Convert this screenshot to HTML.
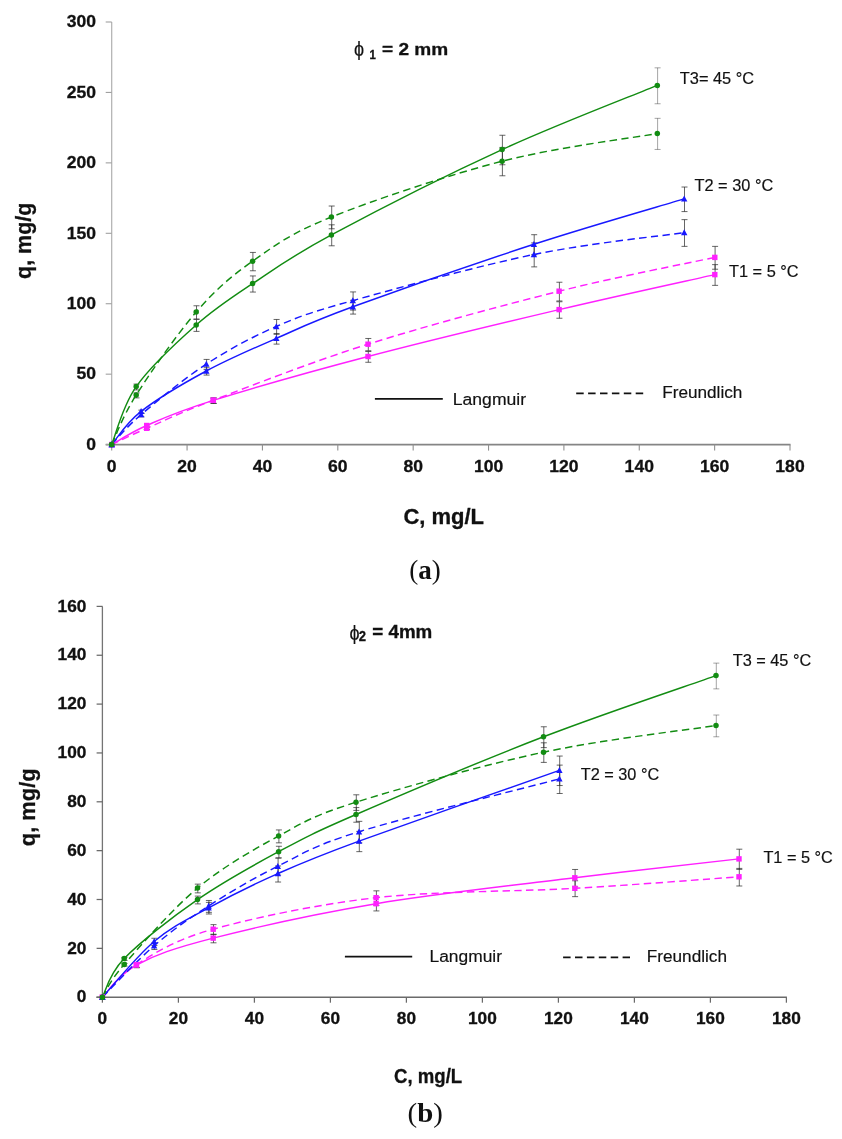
<!DOCTYPE html>
<html><head><meta charset="utf-8"><title>Adsorption isotherms</title>
<style>html,body{margin:0;padding:0;background:#fff}svg{display:block}</style></head>
<body>
<svg width="842" height="1139" viewBox="0 0 842 1139">
<rect width="842" height="1139" fill="#fff"/>
<path d="M111.70,22 V444.60" stroke="#b0b0b0" stroke-width="1.2" fill="none"/>
<path d="M105.70,444.60 H790.5" stroke="#858585" stroke-width="1.6" fill="none"/>
<path d="M105.70,444.60 h6" stroke="#a0a0a0" stroke-width="1.1"/>
<text transform="translate(96.00,449.80) scale(1.0100,1)" font-family='"Liberation Sans", sans-serif' font-size="17.40" font-weight="bold" text-anchor="end" fill="#111" stroke="#111" stroke-width="0.3">0</text>
<path d="M105.70,374.17 h6" stroke="#a0a0a0" stroke-width="1.1"/>
<text transform="translate(96.00,379.37) scale(1.0100,1)" font-family='"Liberation Sans", sans-serif' font-size="17.40" font-weight="bold" text-anchor="end" fill="#111" stroke="#111" stroke-width="0.3">50</text>
<path d="M105.70,303.73 h6" stroke="#a0a0a0" stroke-width="1.1"/>
<text transform="translate(96.00,308.93) scale(1.0100,1)" font-family='"Liberation Sans", sans-serif' font-size="17.40" font-weight="bold" text-anchor="end" fill="#111" stroke="#111" stroke-width="0.3">100</text>
<path d="M105.70,233.30 h6" stroke="#a0a0a0" stroke-width="1.1"/>
<text transform="translate(96.00,238.50) scale(1.0100,1)" font-family='"Liberation Sans", sans-serif' font-size="17.40" font-weight="bold" text-anchor="end" fill="#111" stroke="#111" stroke-width="0.3">150</text>
<path d="M105.70,162.87 h6" stroke="#a0a0a0" stroke-width="1.1"/>
<text transform="translate(96.00,168.07) scale(1.0100,1)" font-family='"Liberation Sans", sans-serif' font-size="17.40" font-weight="bold" text-anchor="end" fill="#111" stroke="#111" stroke-width="0.3">200</text>
<path d="M105.70,92.43 h6" stroke="#a0a0a0" stroke-width="1.1"/>
<text transform="translate(96.00,97.63) scale(1.0100,1)" font-family='"Liberation Sans", sans-serif' font-size="17.40" font-weight="bold" text-anchor="end" fill="#111" stroke="#111" stroke-width="0.3">250</text>
<path d="M105.70,22.00 h6" stroke="#a0a0a0" stroke-width="1.1"/>
<text transform="translate(96.00,27.20) scale(1.0100,1)" font-family='"Liberation Sans", sans-serif' font-size="17.40" font-weight="bold" text-anchor="end" fill="#111" stroke="#111" stroke-width="0.3">300</text>
<path d="M111.70,444.60 v6" stroke="#909090" stroke-width="1.1"/>
<text transform="translate(111.70,471.70) scale(1.0100,1)" font-family='"Liberation Sans", sans-serif' font-size="17.40" font-weight="bold" text-anchor="middle" fill="#111" stroke="#111" stroke-width="0.3">0</text>
<path d="M187.07,444.60 v6" stroke="#909090" stroke-width="1.1"/>
<text transform="translate(187.07,471.70) scale(1.0100,1)" font-family='"Liberation Sans", sans-serif' font-size="17.40" font-weight="bold" text-anchor="middle" fill="#111" stroke="#111" stroke-width="0.3">20</text>
<path d="M262.43,444.60 v6" stroke="#909090" stroke-width="1.1"/>
<text transform="translate(262.43,471.70) scale(1.0100,1)" font-family='"Liberation Sans", sans-serif' font-size="17.40" font-weight="bold" text-anchor="middle" fill="#111" stroke="#111" stroke-width="0.3">40</text>
<path d="M337.80,444.60 v6" stroke="#909090" stroke-width="1.1"/>
<text transform="translate(337.80,471.70) scale(1.0100,1)" font-family='"Liberation Sans", sans-serif' font-size="17.40" font-weight="bold" text-anchor="middle" fill="#111" stroke="#111" stroke-width="0.3">60</text>
<path d="M413.17,444.60 v6" stroke="#909090" stroke-width="1.1"/>
<text transform="translate(413.17,471.70) scale(1.0100,1)" font-family='"Liberation Sans", sans-serif' font-size="17.40" font-weight="bold" text-anchor="middle" fill="#111" stroke="#111" stroke-width="0.3">80</text>
<path d="M488.53,444.60 v6" stroke="#909090" stroke-width="1.1"/>
<text transform="translate(488.53,471.70) scale(1.0100,1)" font-family='"Liberation Sans", sans-serif' font-size="17.40" font-weight="bold" text-anchor="middle" fill="#111" stroke="#111" stroke-width="0.3">100</text>
<path d="M563.90,444.60 v6" stroke="#909090" stroke-width="1.1"/>
<text transform="translate(563.90,471.70) scale(1.0100,1)" font-family='"Liberation Sans", sans-serif' font-size="17.40" font-weight="bold" text-anchor="middle" fill="#111" stroke="#111" stroke-width="0.3">120</text>
<path d="M639.27,444.60 v6" stroke="#909090" stroke-width="1.1"/>
<text transform="translate(639.27,471.70) scale(1.0100,1)" font-family='"Liberation Sans", sans-serif' font-size="17.40" font-weight="bold" text-anchor="middle" fill="#111" stroke="#111" stroke-width="0.3">140</text>
<path d="M714.63,444.60 v6" stroke="#909090" stroke-width="1.1"/>
<text transform="translate(714.63,471.70) scale(1.0100,1)" font-family='"Liberation Sans", sans-serif' font-size="17.40" font-weight="bold" text-anchor="middle" fill="#111" stroke="#111" stroke-width="0.3">160</text>
<path d="M790.00,444.60 v6" stroke="#909090" stroke-width="1.1"/>
<text transform="translate(790.00,471.70) scale(1.0100,1)" font-family='"Liberation Sans", sans-serif' font-size="17.40" font-weight="bold" text-anchor="middle" fill="#111" stroke="#111" stroke-width="0.3">180</text>






<path d="M147.00,424.73 V427.07 M144.00,424.73 h6 M144.00,427.07 h6" stroke="#2a2a2a" stroke-opacity="0.85" stroke-width="0.85" fill="none"/>
<path d="M213.60,398.10 V403.50 M210.60,398.10 h6 M210.60,403.50 h6" stroke="#2a2a2a" stroke-opacity="0.85" stroke-width="0.85" fill="none"/>
<path d="M368.30,351.53 V362.27 M365.30,351.53 h6 M365.30,362.27 h6" stroke="#2a2a2a" stroke-opacity="0.85" stroke-width="0.85" fill="none"/>
<path d="M559.40,301.76 V318.24 M556.40,301.76 h6 M556.40,318.24 h6" stroke="#2a2a2a" stroke-opacity="0.85" stroke-width="0.85" fill="none"/>
<path d="M715.10,264.63 V285.37 M712.10,264.63 h6 M712.10,285.37 h6" stroke="#2a2a2a" stroke-opacity="0.85" stroke-width="0.85" fill="none"/>
<path d="M147.00,427.71 V429.69 M144.00,427.71 h6 M144.00,429.69 h6" stroke="#2a2a2a" stroke-opacity="0.85" stroke-width="0.85" fill="none"/>
<path d="M213.60,397.89 V403.31 M210.60,397.89 h6 M210.60,403.31 h6" stroke="#2a2a2a" stroke-opacity="0.85" stroke-width="0.85" fill="none"/>
<path d="M368.30,338.48 V350.72 M365.30,338.48 h6 M365.30,350.72 h6" stroke="#2a2a2a" stroke-opacity="0.85" stroke-width="0.85" fill="none"/>
<path d="M559.40,282.24 V300.96 M556.40,282.24 h6 M556.40,300.96 h6" stroke="#2a2a2a" stroke-opacity="0.85" stroke-width="0.85" fill="none"/>
<path d="M715.10,246.38 V269.22 M712.10,246.38 h6 M712.10,269.22 h6" stroke="#2a2a2a" stroke-opacity="0.85" stroke-width="0.85" fill="none"/>
<path d="M141.40,410.14 V413.46 M138.40,410.14 h6 M138.40,413.46 h6" stroke="#2a2a2a" stroke-opacity="0.85" stroke-width="0.85" fill="none"/>
<path d="M206.60,367.72 V375.08 M203.60,367.72 h6 M203.60,375.08 h6" stroke="#2a2a2a" stroke-opacity="0.85" stroke-width="0.85" fill="none"/>
<path d="M276.60,333.49 V344.11 M273.60,333.49 h6 M273.60,344.11 h6" stroke="#2a2a2a" stroke-opacity="0.85" stroke-width="0.85" fill="none"/>
<path d="M353.10,300.31 V314.09 M350.10,300.31 h6 M350.10,314.09 h6" stroke="#2a2a2a" stroke-opacity="0.85" stroke-width="0.85" fill="none"/>
<path d="M534.20,234.69 V254.72 M531.20,234.69 h6 M531.20,254.72 h6" stroke="#2a2a2a" stroke-opacity="0.85" stroke-width="0.85" fill="none"/>
<path d="M684.50,187.02 V211.59 M681.50,187.02 h6 M681.50,211.59 h6" stroke="#2a2a2a" stroke-opacity="0.85" stroke-width="0.85" fill="none"/>
<path d="M141.40,413.11 V416.89 M138.40,413.11 h6 M138.40,416.89 h6" stroke="#2a2a2a" stroke-opacity="0.85" stroke-width="0.85" fill="none"/>
<path d="M206.60,359.43 V369.57 M203.60,359.43 h6 M203.60,369.57 h6" stroke="#2a2a2a" stroke-opacity="0.85" stroke-width="0.85" fill="none"/>
<path d="M276.60,319.46 V334.34 M273.60,319.46 h6 M273.60,334.34 h6" stroke="#2a2a2a" stroke-opacity="0.85" stroke-width="0.85" fill="none"/>
<path d="M353.10,291.93 V310.07 M350.10,291.93 h6 M350.10,310.07 h6" stroke="#2a2a2a" stroke-opacity="0.85" stroke-width="0.85" fill="none"/>
<path d="M534.20,242.92 V266.88 M531.20,242.92 h6 M531.20,266.88 h6" stroke="#2a2a2a" stroke-opacity="0.85" stroke-width="0.85" fill="none"/>
<path d="M684.50,219.64 V246.36 M681.50,219.64 h6 M681.50,246.36 h6" stroke="#2a2a2a" stroke-opacity="0.85" stroke-width="0.85" fill="none"/>
<path d="M136.50,384.10 V389.90 M133.50,384.10 h6 M133.50,389.90 h6" stroke="#2a2a2a" stroke-opacity="0.85" stroke-width="0.85" fill="none"/>
<path d="M196.50,319.42 V331.38 M193.50,319.42 h6 M193.50,331.38 h6" stroke="#2a2a2a" stroke-opacity="0.85" stroke-width="0.85" fill="none"/>
<path d="M252.90,275.95 V292.05 M249.90,275.95 h6 M249.90,292.05 h6" stroke="#2a2a2a" stroke-opacity="0.85" stroke-width="0.85" fill="none"/>
<path d="M331.70,224.81 V245.79 M328.70,224.81 h6 M328.70,245.79 h6" stroke="#2a2a2a" stroke-opacity="0.85" stroke-width="0.85" fill="none"/>
<path d="M502.40,135.25 V164.75 M499.40,135.25 h6 M499.40,164.75 h6" stroke="#2a2a2a" stroke-opacity="0.85" stroke-width="0.85" fill="none"/>
<path d="M657.60,67.84 V103.76 M654.60,67.84 h6 M654.60,103.76 h6" stroke="#2a2a2a" stroke-opacity="0.50" stroke-width="0.85" fill="none"/>
<path d="M136.50,392.92 V397.88 M133.50,392.92 h6 M133.50,397.88 h6" stroke="#2a2a2a" stroke-opacity="0.85" stroke-width="0.85" fill="none"/>
<path d="M196.50,305.77 V319.03 M193.50,305.77 h6 M193.50,319.03 h6" stroke="#2a2a2a" stroke-opacity="0.85" stroke-width="0.85" fill="none"/>
<path d="M252.90,252.43 V270.77 M249.90,252.43 h6 M249.90,270.77 h6" stroke="#2a2a2a" stroke-opacity="0.85" stroke-width="0.85" fill="none"/>
<path d="M331.70,206.02 V228.78 M328.70,206.02 h6 M328.70,228.78 h6" stroke="#2a2a2a" stroke-opacity="0.85" stroke-width="0.85" fill="none"/>
<path d="M502.40,147.43 V175.77 M499.40,147.43 h6 M499.40,175.77 h6" stroke="#2a2a2a" stroke-opacity="0.85" stroke-width="0.85" fill="none"/>
<path d="M657.60,118.34 V149.46 M654.60,118.34 h6 M654.60,149.46 h6" stroke="#2a2a2a" stroke-opacity="0.50" stroke-width="0.85" fill="none"/>
<path d="M111.70,444.60 C117.53,441.42 129.77,432.87 146.70,425.50 C163.63,418.13 176.42,411.90 213.30,400.40 C250.18,388.90 310.37,371.63 368.00,356.50 C425.63,341.37 501.30,323.25 559.10,309.60 C616.90,295.95 688.85,280.43 714.80,274.60" stroke="#ff20ff" stroke-width="1.45" fill="none"/>
<path d="M111.70,444.60 C117.53,441.88 129.77,435.70 146.70,428.30 C163.63,420.90 176.42,414.22 213.30,400.20 C250.18,386.18 310.37,362.37 368.00,344.20 C425.63,326.03 501.30,305.67 559.10,291.20 C616.90,276.73 688.85,263.03 714.80,257.40" stroke="#ff20ff" stroke-width="1.45" fill="none" stroke-dasharray="7.4 4.4"/>
<path d="M111.70,444.60 C116.60,439.07 125.33,423.67 141.10,411.40 C156.87,399.13 183.77,383.17 206.30,371.00 C228.83,358.83 251.88,349.10 276.30,338.40 C300.72,327.70 309.87,322.48 352.80,306.80 C395.73,291.12 478.67,262.28 533.90,244.30 C589.13,226.32 659.15,206.47 684.20,198.90" stroke="#1818ff" stroke-width="1.45" fill="none"/>
<path d="M111.70,444.60 C116.60,439.60 125.33,428.02 141.10,414.60 C156.87,401.18 183.77,378.78 206.30,364.10 C228.83,349.42 251.88,337.08 276.30,326.50 C300.72,315.92 309.87,312.60 352.80,300.60 C395.73,288.60 478.67,265.83 533.90,254.50 C589.13,243.17 659.15,236.25 684.20,232.60" stroke="#1818ff" stroke-width="1.45" fill="none" stroke-dasharray="7.4 4.4"/>
<path d="M111.70,444.60 C115.78,434.93 122.12,406.53 136.20,386.60 C150.28,366.67 176.80,342.17 196.20,325.00 C215.60,307.83 230.07,298.62 252.60,283.60 C275.13,268.58 289.82,257.23 331.40,234.90 C372.98,212.57 447.78,174.52 502.10,149.60 C556.42,124.68 631.43,96.10 657.30,85.40" stroke="#128c12" stroke-width="1.45" fill="none"/>
<path d="M111.70,444.60 C115.78,436.33 122.12,417.10 136.20,395.00 C150.28,372.90 176.80,334.30 196.20,312.00 C215.60,289.70 230.07,277.03 252.60,261.20 C275.13,245.37 289.82,233.67 331.40,217.00 C372.98,200.33 447.78,175.12 502.10,161.20 C556.42,147.28 631.43,138.12 657.30,133.50" stroke="#128c12" stroke-width="1.45" fill="none" stroke-dasharray="7.4 4.4"/>
<rect x="109.00" y="441.90" width="5.4" height="5.4" fill="#ff20ff"/>
<rect x="144.00" y="422.80" width="5.4" height="5.4" fill="#ff20ff"/>
<rect x="210.60" y="397.70" width="5.4" height="5.4" fill="#ff20ff"/>
<rect x="365.30" y="353.80" width="5.4" height="5.4" fill="#ff20ff"/>
<rect x="556.40" y="306.90" width="5.4" height="5.4" fill="#ff20ff"/>
<rect x="712.10" y="271.90" width="5.4" height="5.4" fill="#ff20ff"/>
<rect x="109.00" y="441.90" width="5.4" height="5.4" fill="#ff20ff"/>
<rect x="144.00" y="425.60" width="5.4" height="5.4" fill="#ff20ff"/>
<rect x="210.60" y="397.50" width="5.4" height="5.4" fill="#ff20ff"/>
<rect x="365.30" y="341.50" width="5.4" height="5.4" fill="#ff20ff"/>
<rect x="556.40" y="288.50" width="5.4" height="5.4" fill="#ff20ff"/>
<rect x="712.10" y="254.70" width="5.4" height="5.4" fill="#ff20ff"/>
<path d="M111.70,441.30 l3.2,6 h-6.4z" fill="#1818ff"/>
<path d="M141.10,408.10 l3.2,6 h-6.4z" fill="#1818ff"/>
<path d="M206.30,367.70 l3.2,6 h-6.4z" fill="#1818ff"/>
<path d="M276.30,335.10 l3.2,6 h-6.4z" fill="#1818ff"/>
<path d="M352.80,303.50 l3.2,6 h-6.4z" fill="#1818ff"/>
<path d="M533.90,241.00 l3.2,6 h-6.4z" fill="#1818ff"/>
<path d="M684.20,195.60 l3.2,6 h-6.4z" fill="#1818ff"/>
<path d="M111.70,441.30 l3.2,6 h-6.4z" fill="#1818ff"/>
<path d="M141.10,411.30 l3.2,6 h-6.4z" fill="#1818ff"/>
<path d="M206.30,360.80 l3.2,6 h-6.4z" fill="#1818ff"/>
<path d="M276.30,323.20 l3.2,6 h-6.4z" fill="#1818ff"/>
<path d="M352.80,297.30 l3.2,6 h-6.4z" fill="#1818ff"/>
<path d="M533.90,251.20 l3.2,6 h-6.4z" fill="#1818ff"/>
<path d="M684.20,229.30 l3.2,6 h-6.4z" fill="#1818ff"/>
<circle cx="111.70" cy="444.60" r="2.75" fill="#128c12"/>
<circle cx="136.20" cy="386.60" r="2.75" fill="#128c12"/>
<circle cx="196.20" cy="325.00" r="2.75" fill="#128c12"/>
<circle cx="252.60" cy="283.60" r="2.75" fill="#128c12"/>
<circle cx="331.40" cy="234.90" r="2.75" fill="#128c12"/>
<circle cx="502.10" cy="149.60" r="2.75" fill="#128c12"/>
<circle cx="657.30" cy="85.40" r="2.75" fill="#128c12"/>
<circle cx="111.70" cy="444.60" r="2.75" fill="#128c12"/>
<circle cx="136.20" cy="395.00" r="2.75" fill="#128c12"/>
<circle cx="196.20" cy="312.00" r="2.75" fill="#128c12"/>
<circle cx="252.60" cy="261.20" r="2.75" fill="#128c12"/>
<circle cx="331.40" cy="217.00" r="2.75" fill="#128c12"/>
<circle cx="502.10" cy="161.20" r="2.75" fill="#128c12"/>
<circle cx="657.30" cy="133.50" r="2.75" fill="#128c12"/>
<text transform="translate(679.80,84.40) scale(1.0050,1)" font-family='"Liberation Sans", sans-serif' font-size="16.30" font-weight="normal" text-anchor="start" fill="#111" stroke="#111" stroke-width="0.18">T3= 45 °C</text>
<text transform="translate(694.50,191.40) scale(1.0030,1)" font-family='"Liberation Sans", sans-serif' font-size="16.30" font-weight="normal" text-anchor="start" fill="#111" stroke="#111" stroke-width="0.18">T2 = 30 °C</text>
<text transform="translate(729.00,276.60) scale(1.0030,1)" font-family='"Liberation Sans", sans-serif' font-size="16.30" font-weight="normal" text-anchor="start" fill="#111" stroke="#111" stroke-width="0.18">T1 = 5 °C</text>
<path d="M374.9,398.9 H442.8" stroke="#111" stroke-width="1.6"/>
<text transform="translate(452.80,404.60) scale(1.0280,1)" font-family='"Liberation Sans", sans-serif' font-size="17.10" font-weight="normal" text-anchor="start" fill="#111" stroke="#111" stroke-width="0.18">Langmuir</text>
<path d="M576.2,393.4 H643.4" stroke="#111" stroke-width="1.6" stroke-dasharray="7.5 4.4"/>
<text transform="translate(662.20,398.40) scale(1.0050,1)" font-family='"Liberation Sans", sans-serif' font-size="17.10" font-weight="normal" text-anchor="start" fill="#111" stroke="#111" stroke-width="0.18">Freundlich</text>
<text transform="translate(354.00,56.20) scale(0.9200,1)" font-family='"Liberation Sans", sans-serif' font-size="19.60" font-weight="normal" text-anchor="start" fill="#111" stroke="#111" stroke-width="0.18">ϕ</text>
<text transform="translate(369.50,59.30) scale(0.9500,1)" font-family='"Liberation Sans", sans-serif' font-size="12.00" font-weight="bold" text-anchor="start" fill="#111" stroke="#111" stroke-width="0.3">1</text>
<text transform="translate(382.00,54.90) scale(1.1350,1)" font-family='"Liberation Sans", sans-serif' font-size="16.80" font-weight="bold" text-anchor="start" fill="#111" stroke="#111" stroke-width="0.3">= 2 mm</text>
<text transform="translate(403.40,523.80)" font-family='"Liberation Sans", sans-serif' font-size="22.00" font-weight="bold" text-anchor="start" fill="#111" stroke="#111" stroke-width="0.3">C, mg/L</text>
<text transform="translate(30.90,279.00) rotate(-90)" font-family='"Liberation Sans", sans-serif' font-size="21.50" font-weight="bold" text-anchor="start" fill="#111" stroke="#111" stroke-width="0.3">q, mg/g</text>
<text x="425" y="578.8" text-anchor="middle" font-family='"Liberation Serif", serif' font-size="27" fill="#111">(<tspan font-weight="bold">a</tspan>)</text>
<path d="M102.40,606.4 V997.20" stroke="#747474" stroke-width="1.3" fill="none"/>
<path d="M96.40,997.20 H786.90" stroke="#6a6a6a" stroke-width="1.5" fill="none"/>
<path d="M96.60,997.20 h6" stroke="#6a6a6a" stroke-width="1.25"/>
<text transform="translate(86.40,1002.40) scale(1.0100,1)" font-family='"Liberation Sans", sans-serif' font-size="17.10" font-weight="bold" text-anchor="end" fill="#111" stroke="#111" stroke-width="0.3">0</text>
<path d="M96.60,948.35 h6" stroke="#6a6a6a" stroke-width="1.25"/>
<text transform="translate(86.40,953.55) scale(1.0100,1)" font-family='"Liberation Sans", sans-serif' font-size="17.10" font-weight="bold" text-anchor="end" fill="#111" stroke="#111" stroke-width="0.3">20</text>
<path d="M96.60,899.50 h6" stroke="#6a6a6a" stroke-width="1.25"/>
<text transform="translate(86.40,904.70) scale(1.0100,1)" font-family='"Liberation Sans", sans-serif' font-size="17.10" font-weight="bold" text-anchor="end" fill="#111" stroke="#111" stroke-width="0.3">40</text>
<path d="M96.60,850.65 h6" stroke="#6a6a6a" stroke-width="1.25"/>
<text transform="translate(86.40,855.85) scale(1.0100,1)" font-family='"Liberation Sans", sans-serif' font-size="17.10" font-weight="bold" text-anchor="end" fill="#111" stroke="#111" stroke-width="0.3">60</text>
<path d="M96.60,801.80 h6" stroke="#6a6a6a" stroke-width="1.25"/>
<text transform="translate(86.40,807.00) scale(1.0100,1)" font-family='"Liberation Sans", sans-serif' font-size="17.10" font-weight="bold" text-anchor="end" fill="#111" stroke="#111" stroke-width="0.3">80</text>
<path d="M96.60,752.95 h6" stroke="#6a6a6a" stroke-width="1.25"/>
<text transform="translate(86.40,758.15) scale(1.0100,1)" font-family='"Liberation Sans", sans-serif' font-size="17.10" font-weight="bold" text-anchor="end" fill="#111" stroke="#111" stroke-width="0.3">100</text>
<path d="M96.60,704.10 h6" stroke="#6a6a6a" stroke-width="1.25"/>
<text transform="translate(86.40,709.30) scale(1.0100,1)" font-family='"Liberation Sans", sans-serif' font-size="17.10" font-weight="bold" text-anchor="end" fill="#111" stroke="#111" stroke-width="0.3">120</text>
<path d="M96.60,655.25 h6" stroke="#6a6a6a" stroke-width="1.25"/>
<text transform="translate(86.40,660.45) scale(1.0100,1)" font-family='"Liberation Sans", sans-serif' font-size="17.10" font-weight="bold" text-anchor="end" fill="#111" stroke="#111" stroke-width="0.3">140</text>
<path d="M96.60,606.40 h6" stroke="#6a6a6a" stroke-width="1.25"/>
<text transform="translate(86.40,611.60) scale(1.0100,1)" font-family='"Liberation Sans", sans-serif' font-size="17.10" font-weight="bold" text-anchor="end" fill="#111" stroke="#111" stroke-width="0.3">160</text>
<path d="M102.40,997.20 v5.5" stroke="#6a6a6a" stroke-width="1.25"/>
<text transform="translate(102.40,1024.10) scale(1.0100,1)" font-family='"Liberation Sans", sans-serif' font-size="17.10" font-weight="bold" text-anchor="middle" fill="#111" stroke="#111" stroke-width="0.3">0</text>
<path d="M178.40,997.20 v5.5" stroke="#6a6a6a" stroke-width="1.25"/>
<text transform="translate(178.40,1024.10) scale(1.0100,1)" font-family='"Liberation Sans", sans-serif' font-size="17.10" font-weight="bold" text-anchor="middle" fill="#111" stroke="#111" stroke-width="0.3">20</text>
<path d="M254.40,997.20 v5.5" stroke="#6a6a6a" stroke-width="1.25"/>
<text transform="translate(254.40,1024.10) scale(1.0100,1)" font-family='"Liberation Sans", sans-serif' font-size="17.10" font-weight="bold" text-anchor="middle" fill="#111" stroke="#111" stroke-width="0.3">40</text>
<path d="M330.40,997.20 v5.5" stroke="#6a6a6a" stroke-width="1.25"/>
<text transform="translate(330.40,1024.10) scale(1.0100,1)" font-family='"Liberation Sans", sans-serif' font-size="17.10" font-weight="bold" text-anchor="middle" fill="#111" stroke="#111" stroke-width="0.3">60</text>
<path d="M406.40,997.20 v5.5" stroke="#6a6a6a" stroke-width="1.25"/>
<text transform="translate(406.40,1024.10) scale(1.0100,1)" font-family='"Liberation Sans", sans-serif' font-size="17.10" font-weight="bold" text-anchor="middle" fill="#111" stroke="#111" stroke-width="0.3">80</text>
<path d="M482.40,997.20 v5.5" stroke="#6a6a6a" stroke-width="1.25"/>
<text transform="translate(482.40,1024.10) scale(1.0100,1)" font-family='"Liberation Sans", sans-serif' font-size="17.10" font-weight="bold" text-anchor="middle" fill="#111" stroke="#111" stroke-width="0.3">100</text>
<path d="M558.40,997.20 v5.5" stroke="#6a6a6a" stroke-width="1.25"/>
<text transform="translate(558.40,1024.10) scale(1.0100,1)" font-family='"Liberation Sans", sans-serif' font-size="17.10" font-weight="bold" text-anchor="middle" fill="#111" stroke="#111" stroke-width="0.3">120</text>
<path d="M634.40,997.20 v5.5" stroke="#6a6a6a" stroke-width="1.25"/>
<text transform="translate(634.40,1024.10) scale(1.0100,1)" font-family='"Liberation Sans", sans-serif' font-size="17.10" font-weight="bold" text-anchor="middle" fill="#111" stroke="#111" stroke-width="0.3">140</text>
<path d="M710.40,997.20 v5.5" stroke="#6a6a6a" stroke-width="1.25"/>
<text transform="translate(710.40,1024.10) scale(1.0100,1)" font-family='"Liberation Sans", sans-serif' font-size="17.10" font-weight="bold" text-anchor="middle" fill="#111" stroke="#111" stroke-width="0.3">160</text>
<path d="M786.40,997.20 v5.5" stroke="#6a6a6a" stroke-width="1.25"/>
<text transform="translate(786.40,1024.10) scale(1.0100,1)" font-family='"Liberation Sans", sans-serif' font-size="17.10" font-weight="bold" text-anchor="middle" fill="#111" stroke="#111" stroke-width="0.3">180</text>






<path d="M136.70,963.05 V967.75 M133.70,963.05 h6 M133.70,967.75 h6" stroke="#2a2a2a" stroke-opacity="0.85" stroke-width="0.85" fill="none"/>
<path d="M213.50,934.19 V942.81 M210.50,934.19 h6 M210.50,942.81 h6" stroke="#2a2a2a" stroke-opacity="0.85" stroke-width="0.85" fill="none"/>
<path d="M376.40,897.27 V910.93 M373.40,897.27 h6 M373.40,910.93 h6" stroke="#2a2a2a" stroke-opacity="0.85" stroke-width="0.85" fill="none"/>
<path d="M575.10,869.48 V886.92 M572.10,869.48 h6 M572.10,886.92 h6" stroke="#2a2a2a" stroke-opacity="0.85" stroke-width="0.85" fill="none"/>
<path d="M739.30,849.20 V869.40 M736.30,849.20 h6 M736.30,869.40 h6" stroke="#2a2a2a" stroke-opacity="0.85" stroke-width="0.85" fill="none"/>
<path d="M136.70,962.62 V967.38 M133.70,962.62 h6 M133.70,967.38 h6" stroke="#2a2a2a" stroke-opacity="0.85" stroke-width="0.85" fill="none"/>
<path d="M213.50,924.64 V934.56 M210.50,924.64 h6 M210.50,934.56 h6" stroke="#2a2a2a" stroke-opacity="0.85" stroke-width="0.85" fill="none"/>
<path d="M376.40,890.84 V905.36 M373.40,890.84 h6 M373.40,905.36 h6" stroke="#2a2a2a" stroke-opacity="0.85" stroke-width="0.85" fill="none"/>
<path d="M575.10,880.75 V896.65 M572.10,880.75 h6 M572.10,896.65 h6" stroke="#2a2a2a" stroke-opacity="0.85" stroke-width="0.85" fill="none"/>
<path d="M739.30,868.41 V885.99 M736.30,868.41 h6 M736.30,885.99 h6" stroke="#2a2a2a" stroke-opacity="0.85" stroke-width="0.85" fill="none"/>
<path d="M154.40,938.28 V945.52 M151.40,938.28 h6 M151.40,945.52 h6" stroke="#2a2a2a" stroke-opacity="0.85" stroke-width="0.85" fill="none"/>
<path d="M208.90,902.39 V914.01 M205.90,902.39 h6 M205.90,914.01 h6" stroke="#2a2a2a" stroke-opacity="0.85" stroke-width="0.85" fill="none"/>
<path d="M278.10,865.97 V882.03 M275.10,865.97 h6 M275.10,882.03 h6" stroke="#2a2a2a" stroke-opacity="0.85" stroke-width="0.85" fill="none"/>
<path d="M359.30,831.35 V851.65 M356.30,831.35 h6 M356.30,851.65 h6" stroke="#2a2a2a" stroke-opacity="0.85" stroke-width="0.85" fill="none"/>
<path d="M559.70,756.06 V785.54 M556.70,756.06 h6 M556.70,785.54 h6" stroke="#2a2a2a" stroke-opacity="0.85" stroke-width="0.85" fill="none"/>
<path d="M154.40,942.86 V949.54 M151.40,942.86 h6 M151.40,949.54 h6" stroke="#2a2a2a" stroke-opacity="0.85" stroke-width="0.85" fill="none"/>
<path d="M208.90,900.47 V912.33 M205.90,900.47 h6 M205.90,912.33 h6" stroke="#2a2a2a" stroke-opacity="0.85" stroke-width="0.85" fill="none"/>
<path d="M278.10,858.09 V875.12 M275.10,858.09 h6 M275.10,875.12 h6" stroke="#2a2a2a" stroke-opacity="0.85" stroke-width="0.85" fill="none"/>
<path d="M359.30,821.34 V842.86 M356.30,821.34 h6 M356.30,842.86 h6" stroke="#2a2a2a" stroke-opacity="0.85" stroke-width="0.85" fill="none"/>
<path d="M559.70,765.11 V793.49 M556.70,765.11 h6 M556.70,793.49 h6" stroke="#2a2a2a" stroke-opacity="0.85" stroke-width="0.85" fill="none"/>
<path d="M124.50,957.35 V960.45 M121.50,957.35 h6 M121.50,960.45 h6" stroke="#2a2a2a" stroke-opacity="0.85" stroke-width="0.85" fill="none"/>
<path d="M197.80,896.10 V903.90 M194.80,896.10 h6 M194.80,903.90 h6" stroke="#2a2a2a" stroke-opacity="0.85" stroke-width="0.85" fill="none"/>
<path d="M278.90,846.28 V857.92 M275.90,846.28 h6 M275.90,857.92 h6" stroke="#2a2a2a" stroke-opacity="0.85" stroke-width="0.85" fill="none"/>
<path d="M356.30,807.59 V822.21 M353.30,807.59 h6 M353.30,822.21 h6" stroke="#2a2a2a" stroke-opacity="0.85" stroke-width="0.85" fill="none"/>
<path d="M543.80,726.78 V747.62 M540.80,726.78 h6 M540.80,747.62 h6" stroke="#2a2a2a" stroke-opacity="0.85" stroke-width="0.85" fill="none"/>
<path d="M716.30,663.14 V688.86 M713.30,663.14 h6 M713.30,688.86 h6" stroke="#2a2a2a" stroke-opacity="0.50" stroke-width="0.85" fill="none"/>
<path d="M124.50,963.49 V966.11 M121.50,963.49 h6 M121.50,966.11 h6" stroke="#2a2a2a" stroke-opacity="0.85" stroke-width="0.85" fill="none"/>
<path d="M197.80,884.14 V892.86 M194.80,884.14 h6 M194.80,892.86 h6" stroke="#2a2a2a" stroke-opacity="0.85" stroke-width="0.85" fill="none"/>
<path d="M278.90,829.95 V842.85 M275.90,829.95 h6 M275.90,842.85 h6" stroke="#2a2a2a" stroke-opacity="0.85" stroke-width="0.85" fill="none"/>
<path d="M356.30,794.80 V810.40 M353.30,794.80 h6 M353.30,810.40 h6" stroke="#2a2a2a" stroke-opacity="0.85" stroke-width="0.85" fill="none"/>
<path d="M543.80,742.80 V762.40 M540.80,742.80 h6 M540.80,762.40 h6" stroke="#2a2a2a" stroke-opacity="0.85" stroke-width="0.85" fill="none"/>
<path d="M716.30,715.03 V736.77 M713.30,715.03 h6 M713.30,736.77 h6" stroke="#2a2a2a" stroke-opacity="0.50" stroke-width="0.85" fill="none"/>
<path d="M102.40,997.20 C108.07,991.83 117.93,974.85 136.40,965.00 C154.87,955.15 173.25,948.32 213.20,938.10 C253.15,927.88 315.83,913.75 376.10,903.70 C436.37,893.65 514.32,885.27 574.80,877.80 C635.28,870.33 711.63,862.05 739.00,858.90" stroke="#ff20ff" stroke-width="1.45" fill="none"/>
<path d="M102.40,997.20 C108.07,991.77 117.93,975.93 136.40,964.60 C154.87,953.27 173.25,940.35 213.20,929.20 C253.15,918.05 315.83,904.52 376.10,897.70 C436.37,890.88 514.32,891.78 574.80,888.30 C635.28,884.82 711.63,878.72 739.00,876.80" stroke="#ff20ff" stroke-width="1.45" fill="none" stroke-dasharray="7.4 4.4"/>
<path d="M102.40,997.20 C111.02,987.92 136.40,956.40 154.10,941.50 C171.80,926.60 187.98,919.12 208.60,907.80 C229.22,896.48 252.73,884.72 277.80,873.60 C302.87,862.48 312.07,858.30 359.00,841.10 C405.93,823.90 526.00,782.18 559.40,770.40" stroke="#1818ff" stroke-width="1.45" fill="none"/>
<path d="M102.40,997.20 C111.02,988.63 136.40,961.00 154.10,945.80 C171.80,930.60 187.98,919.27 208.60,906.00 C229.22,892.73 252.73,878.58 277.80,866.20 C302.87,853.82 312.07,846.25 359.00,831.70 C405.93,817.15 526.00,787.70 559.40,778.90" stroke="#1818ff" stroke-width="1.45" fill="none" stroke-dasharray="7.4 4.4"/>
<path d="M102.40,997.20 C106.03,990.75 108.35,974.77 124.20,958.50 C140.05,942.23 171.77,917.40 197.50,899.60 C223.23,881.80 252.18,865.88 278.60,851.70 C305.02,837.52 311.85,833.65 356.00,814.50 C400.15,795.35 483.50,759.95 543.50,736.80 C603.50,713.65 687.25,685.80 716.00,675.60" stroke="#128c12" stroke-width="1.45" fill="none"/>
<path d="M102.40,997.20 C106.03,991.73 108.35,982.58 124.20,964.40 C140.05,946.22 171.77,909.50 197.50,888.10 C223.23,866.70 252.18,850.32 278.60,836.00 C305.02,821.68 311.85,816.17 356.00,802.20 C400.15,788.23 483.50,764.98 543.50,752.20 C603.50,739.42 687.25,729.95 716.00,725.50" stroke="#128c12" stroke-width="1.45" fill="none" stroke-dasharray="7.4 4.4"/>
<rect x="99.70" y="994.50" width="5.4" height="5.4" fill="#ff20ff"/>
<rect x="133.70" y="962.30" width="5.4" height="5.4" fill="#ff20ff"/>
<rect x="210.50" y="935.40" width="5.4" height="5.4" fill="#ff20ff"/>
<rect x="373.40" y="901.00" width="5.4" height="5.4" fill="#ff20ff"/>
<rect x="572.10" y="875.10" width="5.4" height="5.4" fill="#ff20ff"/>
<rect x="736.30" y="856.20" width="5.4" height="5.4" fill="#ff20ff"/>
<rect x="99.70" y="994.50" width="5.4" height="5.4" fill="#ff20ff"/>
<rect x="133.70" y="961.90" width="5.4" height="5.4" fill="#ff20ff"/>
<rect x="210.50" y="926.50" width="5.4" height="5.4" fill="#ff20ff"/>
<rect x="373.40" y="895.00" width="5.4" height="5.4" fill="#ff20ff"/>
<rect x="572.10" y="885.60" width="5.4" height="5.4" fill="#ff20ff"/>
<rect x="736.30" y="874.10" width="5.4" height="5.4" fill="#ff20ff"/>
<path d="M102.40,993.90 l3.2,6 h-6.4z" fill="#1818ff"/>
<path d="M154.10,938.20 l3.2,6 h-6.4z" fill="#1818ff"/>
<path d="M208.60,904.50 l3.2,6 h-6.4z" fill="#1818ff"/>
<path d="M277.80,870.30 l3.2,6 h-6.4z" fill="#1818ff"/>
<path d="M359.00,837.80 l3.2,6 h-6.4z" fill="#1818ff"/>
<path d="M559.40,767.10 l3.2,6 h-6.4z" fill="#1818ff"/>
<path d="M102.40,993.90 l3.2,6 h-6.4z" fill="#1818ff"/>
<path d="M154.10,942.50 l3.2,6 h-6.4z" fill="#1818ff"/>
<path d="M208.60,902.70 l3.2,6 h-6.4z" fill="#1818ff"/>
<path d="M277.80,862.90 l3.2,6 h-6.4z" fill="#1818ff"/>
<path d="M359.00,828.40 l3.2,6 h-6.4z" fill="#1818ff"/>
<path d="M559.40,775.60 l3.2,6 h-6.4z" fill="#1818ff"/>
<circle cx="102.40" cy="997.20" r="2.75" fill="#128c12"/>
<circle cx="124.20" cy="958.50" r="2.75" fill="#128c12"/>
<circle cx="197.50" cy="899.60" r="2.75" fill="#128c12"/>
<circle cx="278.60" cy="851.70" r="2.75" fill="#128c12"/>
<circle cx="356.00" cy="814.50" r="2.75" fill="#128c12"/>
<circle cx="543.50" cy="736.80" r="2.75" fill="#128c12"/>
<circle cx="716.00" cy="675.60" r="2.75" fill="#128c12"/>
<circle cx="102.40" cy="997.20" r="2.75" fill="#128c12"/>
<circle cx="124.20" cy="964.40" r="2.75" fill="#128c12"/>
<circle cx="197.50" cy="888.10" r="2.75" fill="#128c12"/>
<circle cx="278.60" cy="836.00" r="2.75" fill="#128c12"/>
<circle cx="356.00" cy="802.20" r="2.75" fill="#128c12"/>
<circle cx="543.50" cy="752.20" r="2.75" fill="#128c12"/>
<circle cx="716.00" cy="725.50" r="2.75" fill="#128c12"/>
<text transform="translate(732.70,665.60)" font-family='"Liberation Sans", sans-serif' font-size="16.30" font-weight="normal" text-anchor="start" fill="#111" stroke="#111" stroke-width="0.18">T3 = 45 °C</text>
<text transform="translate(580.70,779.90)" font-family='"Liberation Sans", sans-serif' font-size="16.30" font-weight="normal" text-anchor="start" fill="#111" stroke="#111" stroke-width="0.18">T2 = 30 °C</text>
<text transform="translate(763.40,862.80)" font-family='"Liberation Sans", sans-serif' font-size="16.30" font-weight="normal" text-anchor="start" fill="#111" stroke="#111" stroke-width="0.18">T1 = 5 °C</text>
<path d="M344.9,956.6 H412.2" stroke="#111" stroke-width="1.6"/>
<text transform="translate(429.50,962.10) scale(1.0170,1)" font-family='"Liberation Sans", sans-serif' font-size="17.10" font-weight="normal" text-anchor="start" fill="#111" stroke="#111" stroke-width="0.18">Langmuir</text>
<path d="M563.1,957.4 H630" stroke="#111" stroke-width="1.6" stroke-dasharray="7.5 4.4"/>
<text transform="translate(646.80,962.10) scale(1.0050,1)" font-family='"Liberation Sans", sans-serif' font-size="17.10" font-weight="normal" text-anchor="start" fill="#111" stroke="#111" stroke-width="0.18">Freundlich</text>
<text transform="translate(349.50,639.50) scale(0.9000,1)" font-family='"Liberation Sans", sans-serif' font-size="20.00" font-weight="normal" text-anchor="start" fill="#111" stroke="#111" stroke-width="0.18">ϕ</text>
<text transform="translate(358.80,641.30) scale(0.9100,1)" font-family='"Liberation Sans", sans-serif' font-size="14.40" font-weight="bold" text-anchor="start" fill="#111" stroke="#111" stroke-width="0.3">2</text>
<text transform="translate(372.30,637.90) scale(1.0740,1)" font-family='"Liberation Sans", sans-serif' font-size="17.50" font-weight="bold" text-anchor="start" fill="#111" stroke="#111" stroke-width="0.3">= 4mm</text>
<text transform="translate(394.00,1082.60) scale(0.9550,1)" font-family='"Liberation Sans", sans-serif' font-size="19.50" font-weight="bold" text-anchor="start" fill="#111" stroke="#111" stroke-width="0.3">C, mg/L</text>
<text transform="translate(35.30,846.20) rotate(-90)" font-family='"Liberation Sans", sans-serif' font-size="21.90" font-weight="bold" text-anchor="start" fill="#111" stroke="#111" stroke-width="0.3">q, mg/g</text>
<text transform="translate(425.2,1121.6) scale(1.07,1.04)" text-anchor="middle" font-family='"Liberation Serif", serif' font-size="27" fill="#111">(<tspan font-weight="bold">b</tspan>)</text>
</svg>
</body></html>
